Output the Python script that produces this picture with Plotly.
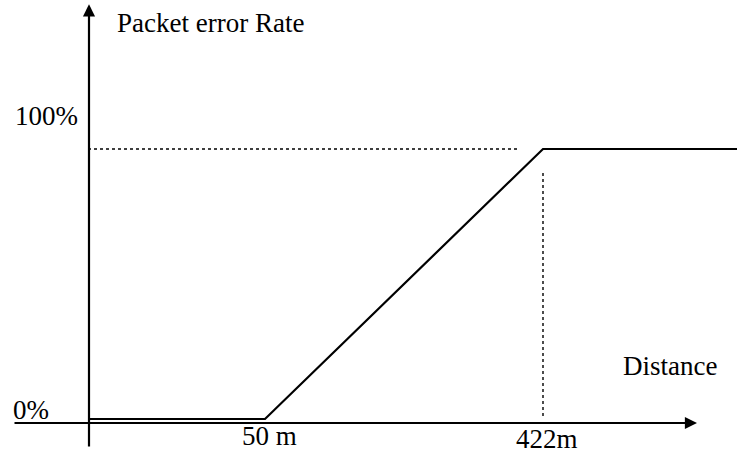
import plotly.graph_objects as go

# Schematic distance axis (arbitrary units) with the two labelled breakpoints
dist_knee_labels = ["50 m", "422m"]
dist_knee_pos = [1.76, 4.54]          # position of each breakpoint on the schematic axis
dist_end = 6.60                        # curve continues past the right edge

# Packet error rate (%) at the curve vertices
curve_x = [0.0, dist_knee_pos[0], dist_knee_pos[1], dist_end]
curve_y = [0, 0, 100, 100]

per_tick_labels = ["0%", "100%"]

W, H = 737, 456
X_RANGE = [-0.89, 6.48]
Y_RANGE = [-13.70, 155.19]

FONT = dict(family="Liberation Serif, Times New Roman, serif", size=27, color="#000")

fig = go.Figure()

# piecewise-linear error-rate curve
fig.add_trace(go.Scatter(
    x=curve_x, y=curve_y, mode="lines",
    line=dict(color="#000", width=2.2), hoverinfo="skip", showlegend=False,
))

# dotted guide lines to the 100% level and the 422 m breakpoint
GUIDE = dict(color="#000", width=1.4, dash="3px,3px")
fig.add_trace(go.Scatter(
    x=[-0.01, dist_knee_pos[1] - 0.25], y=[100, 100], mode="lines",
    line=GUIDE, hoverinfo="skip", showlegend=False,
))
fig.add_trace(go.Scatter(
    x=[dist_knee_pos[1], dist_knee_pos[1]], y=[91.1, 0.7], mode="lines",
    line=GUIDE, hoverinfo="skip", showlegend=False,
))

annotations = []

# axes drawn as arrows
axis_y_level = -1.48
annotations.append(dict(
    x=6.08, y=axis_y_level, ax=-0.76, ay=axis_y_level,
    xref="x", yref="y", axref="x", ayref="y",
    showarrow=True, arrowhead=2, arrowsize=1.1, arrowwidth=2.2, arrowcolor="#000", text="",
))
annotations.append(dict(
    x=0, y=153.6, ax=0, ay=-10.74,
    xref="x", yref="y", axref="x", ayref="y",
    showarrow=True, arrowhead=2, arrowsize=1.1, arrowwidth=2.2, arrowcolor="#000", text="",
))

# axis titles
annotations.append(dict(text="Packet error Rate", x=115 / W, y=1 - 23 / H,
                        xref="paper", yref="paper", xanchor="left", yanchor="middle",
                        showarrow=False, font=FONT))
annotations.append(dict(text="Distance", x=621 / W, y=1 - 366 / H,
                        xref="paper", yref="paper", xanchor="left", yanchor="middle",
                        showarrow=False, font=FONT))

# y labels
annotations.append(dict(text=per_tick_labels[1], x=13 / W, y=1 - 116 / H,
                        xref="paper", yref="paper", xanchor="left", yanchor="middle",
                        showarrow=False, font=FONT))
annotations.append(dict(text=per_tick_labels[0], x=11 / W, y=1 - 410 / H,
                        xref="paper", yref="paper", xanchor="left", yanchor="middle",
                        showarrow=False, font=FONT))

# x breakpoint labels
for lbl, pos, cy in zip(dist_knee_labels, dist_knee_pos, [436, 439]):
    annotations.append(dict(text=lbl, x=pos, y=1 - cy / H, xref="x", yref="paper",
                            xanchor="center", yanchor="middle", xshift=4,
                            showarrow=False, font=FONT))

fig.update_layout(
    width=W, height=H,
    margin=dict(l=0, r=0, t=0, b=0),
    paper_bgcolor="#fff", plot_bgcolor="#fff",
    xaxis=dict(range=X_RANGE, visible=False, fixedrange=True),
    yaxis=dict(range=Y_RANGE, visible=False, fixedrange=True),
    annotations=annotations,
    showlegend=False,
)

fig.write_html("out.html", config={"displayModeBar": False})
